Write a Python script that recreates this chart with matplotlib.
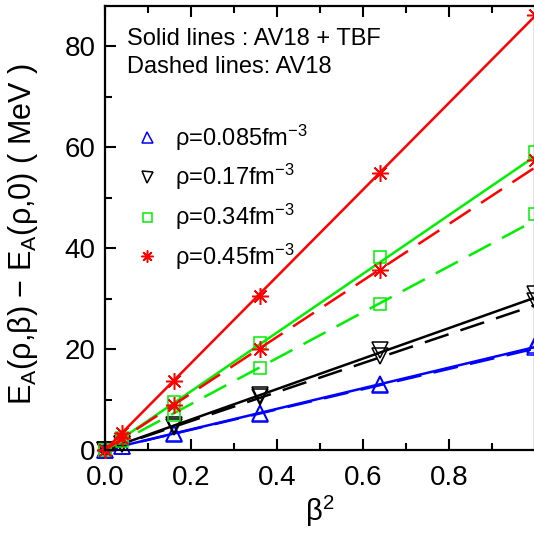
import matplotlib
matplotlib.use('Agg')
import matplotlib.pyplot as plt
import matplotlib.ticker as mticker
from matplotlib.lines import Line2D
import numpy as np

plt.rcParams['font.family'] = ['Liberation Sans', 'DejaVu Sans']
plt.rcParams['mathtext.fontset'] = 'custom'
plt.rcParams['mathtext.rm'] = 'Liberation Sans'
plt.rcParams['mathtext.default'] = 'regular'

# asymmetry parameter squared
beta2 = [0.0, 0.04, 0.16, 0.36, 0.64, 1.0]

densities = ['0.085', '0.17', '0.34', '0.45']

# E_A(rho,beta) - E_A(rho,0) in MeV, AV18 + TBF
e_tbf = [
    [0.0, 0.8, 3.3, 7.4, 13.1, 20.9],
    [0.0, 1.2, 4.9, 11.0, 19.8, 30.9],
    [0.0, 2.3, 9.5, 21.3, 38.2, 59.0],
    [0.0, 3.4, 13.6, 30.6, 54.9, 86.2],
]
# pure AV18
e_av18 = [
    [0.0, 0.8, 3.2, 7.2, 12.9, 20.5],
    [0.0, 1.1, 4.6, 10.5, 18.6, 29.6],
    [0.0, 1.8, 7.0, 16.2, 29.0, 46.7],
    [0.0, 2.3, 8.9, 20.1, 35.6, 57.4],
]

# linear fits E = Esym * beta^2
esym_tbf = [20.4, 30.2, 58.2, 86.0]
esym_av18 = [20.1, 28.7, 45.5, 56.0]

colors = ['#0000ff', '#000000', '#00ee00', '#ff0000']
markers = ['^', 'v', 's', (8, 2, 0)]
msizes = [11, 11, 9, 12]

fig = plt.figure(figsize=(5.34, 5.37), dpi=100)
ax = fig.add_axes([105 / 534, 87 / 537, 430 / 534, 444 / 537])

xfit = np.array([0.0, 1.0])
for i in range(4):
    c = colors[i]
    ax.plot(xfit, esym_tbf[i] * xfit, '-', color=c, lw=1.8)
    ax.plot(xfit, esym_av18[i] * xfit, '--', color=c, lw=1.8, dashes=(10, 5))
    ax.plot(beta2, e_tbf[i], ls='none', marker=markers[i], ms=msizes[i],
            mfc='none', mec=c, mew=1.1, clip_on=False)
    ax.plot(beta2, e_av18[i], ls='none', marker=markers[i], ms=msizes[i],
            mfc='none', mec=c, mew=1.1, clip_on=False)

ax.set_xlim(0, 1.0)
ax.set_ylim(0, 88)

ax.set_xticks([0.0, 0.2, 0.4, 0.6, 0.8])
ax.xaxis.set_major_formatter(mticker.FormatStrFormatter('%.1f'))
ax.xaxis.set_minor_locator(mticker.FixedLocator([0.1, 0.3, 0.5, 0.7, 0.9]))
ax.set_yticks([0, 20, 40, 60, 80])
ax.yaxis.set_minor_locator(mticker.MultipleLocator(10))

ax.tick_params(which='both', direction='in', top=True, right=False,
               width=1.5, labelsize=20)
ax.tick_params(which='major', length=8)
ax.tick_params(which='minor', length=5)
ax.tick_params(axis='y', which='major', pad=7)
ax.tick_params(axis='x', which='major', pad=11)
for s in ax.spines.values():
    s.set_linewidth(1.6)

ax.set_xlabel(r'$\beta^2$', fontsize=21, labelpad=2)
ax.set_ylabel(r'E$_A$(ρ,β) $-$ E$_A$(ρ,0) ( MeV )', fontsize=22)
ax.yaxis.set_label_coords(-0.152, 0.486)

ax.text(0.051, 0.925, 'Solid lines : AV18 + TBF', transform=ax.transAxes,
        fontsize=17, va='center')
ax.text(0.051, 0.862, 'Dashed lines: AV18', transform=ax.transAxes,
        fontsize=17, va='center')

handles = [Line2D([], [], ls='none', marker=markers[i], ms=msizes[i] * 0.72,
                  mfc='none', mec=colors[i], mew=1.1) for i in range(4)]
labels = ['ρ=' + d + r'fm$^{-3}$' for d in densities]
ax.legend(handles, labels, loc='upper left', bbox_to_anchor=(0.045, 0.764),
          frameon=False, fontsize=17, handlelength=0.9, handletextpad=0.75,
          labelspacing=0.4, borderpad=0)

fig.savefig('out.png', dpi=100)
plt.close(fig)
